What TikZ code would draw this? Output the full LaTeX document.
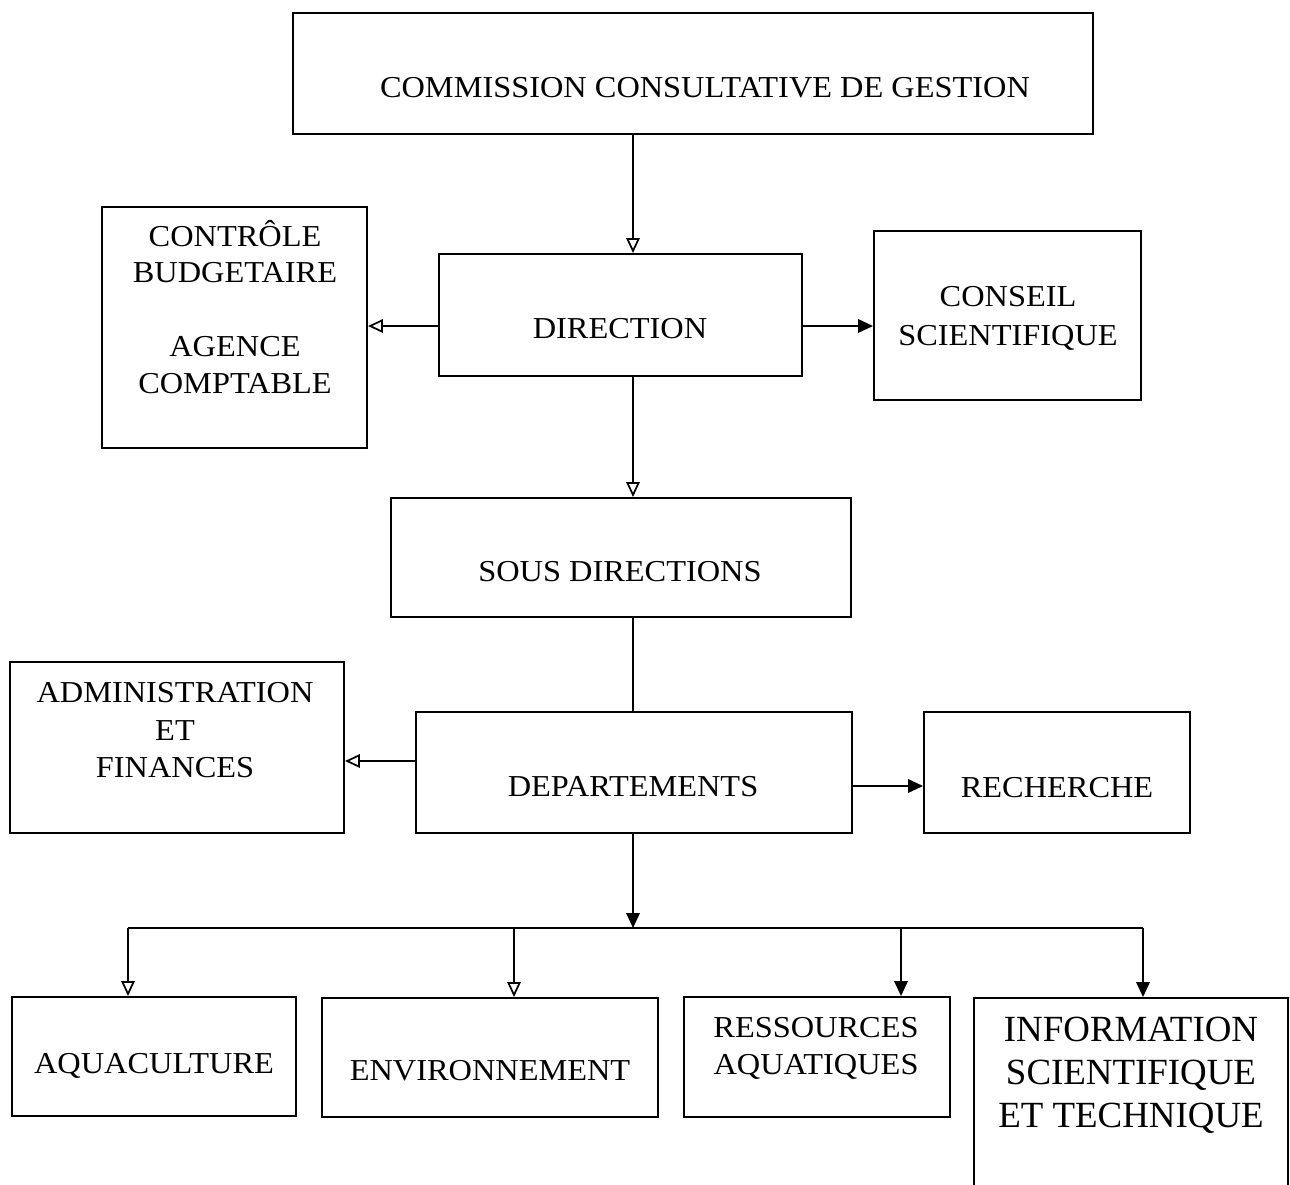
\documentclass[tikz,border=0pt]{standalone}
\usepackage{fontspec}
\setmainfont{Liberation Serif}[FakeStretch=1.065]
\newfontfamily\infofont{Liberation Serif}
\usetikzlibrary{arrows.meta,fit}
\tikzset{
  box/.style={draw,line width=1.1pt,inner sep=0pt},
  lbl/.style={anchor=base,inner sep=0pt,font=\fontsize{17.3}{21}\selectfont},
  biglbl/.style={anchor=base,inner sep=0pt,font=\infofont\fontsize{21}{25}\selectfont},
  link/.style={line width=1.1pt},
  openarrow/.style={link,-{Triangle[open,length=0.3cm,width=0.27cm,line width=1pt]}},
  fullarrow/.style={link,-{Triangle[length=0.3cm,width=0.27cm]}}
}
\begin{document}
\begin{tikzpicture}[x=0.02cm,y=-0.02cm]
\useasboundingbox[fill=white] (0,0) rectangle (1290,1185);
\clip (0,0) rectangle (1290,1185);
% boxes
\node[box,fit={(293,13) (1093,134)}] (ccg) {};
\node[box,fit={(102,207) (367,448)}] (ctrl) {};
\node[box,fit={(439,254) (802,376)}] (dir) {};
\node[box,fit={(874,231) (1141,400)}] (cons) {};
\node[box,fit={(391,498) (851,617)}] (sous) {};
\node[box,fit={(10,662) (344,833)}] (adm) {};
\node[box,fit={(416,712) (852,833)}] (dep) {};
\node[box,fit={(924,712) (1190,833)}] (rech) {};
\node[box,fit={(12,997) (296,1116)}] (aqua) {};
\node[box,fit={(322,998) (658,1117)}] (env) {};
\node[box,fit={(684,997) (950,1117)}] (ress) {};
\node[box,fit={(974,998) (1288,1240)}] (info) {};
% texts
\node[lbl] (t-ccg) at (705,98) {COMMISSION CONSULTATIVE DE GESTION};
\node[lbl] (t-ctrl1) at (235,247) {CONTRÔLE};
\node[lbl] (t-ctrl2) at (235,283) {BUDGETAIRE};
\node[lbl] (t-ctrl3) at (235,357) {AGENCE};
\node[lbl] (t-ctrl4) at (235,394) {COMPTABLE};
\node[lbl] (t-dir) at (620,339) {DIRECTION};
\node[lbl] (t-cons1) at (1008,307) {CONSEIL};
\node[lbl] (t-cons2) at (1008,346) {SCIENTIFIQUE};
\node[lbl] (t-sous) at (620,581) {SOUS DIRECTIONS};
\node[lbl] (t-adm1) at (175,702) {ADMINISTRATION};
\node[lbl] (t-adm2) at (175,740) {ET};
\node[lbl] (t-adm3) at (175,777) {FINANCES};
\node[lbl] (t-dep) at (633,796) {DEPARTEMENTS};
\node[lbl] (t-rech) at (1057,797) {RECHERCHE};
\node[lbl] (t-aqua) at (154,1073) {AQUACULTURE};
\node[lbl] (t-env) at (490,1080) {ENVIRONNEMENT};
\node[lbl] (t-ress1) at (816,1037) {RESSOURCES};
\node[lbl] (t-ress2) at (816,1074) {AQUATIQUES};
\node[biglbl] (t-info1) at (1131,1041) {INFORMATION};
\node[biglbl] (t-info2) at (1131,1084) {SCIENTIFIQUE};
\node[biglbl] (t-info3) at (1131,1127) {ET TECHNIQUE};
% connectors
\coordinate (j) at (633,928);
\coordinate (b1) at (128,928);
\coordinate (b2) at (514,928);
\coordinate (b3) at (901,928);
\coordinate (b4) at (1143,928);
\draw[openarrow] (ccg.south -| j) -- (dir.north -| j);
\draw[openarrow] (dir.south -| j) -- (sous.north -| j);
\draw[link] (sous.south -| j) -- (dep.north -| j);
\draw[openarrow] (dir.west |- 0,326) -- (ctrl.east |- 0,326);
\draw[fullarrow] (dir.east |- 0,326) -- (cons.west |- 0,326);
\draw[openarrow] (dep.west |- 0,761) -- (adm.east |- 0,761);
\draw[fullarrow] (dep.east |- 0,786) -- (rech.west |- 0,786);
\draw[fullarrow] (dep.south -| j) -- (j);
\draw[link] (b1) -- (b4);
\draw[openarrow] (b1) -- (b1 |- aqua.north);
\draw[openarrow] (b2) -- (b2 |- env.north);
\draw[fullarrow] (b3) -- (b3 |- ress.north);
\draw[fullarrow] (b4) -- (b4 |- info.north);
\end{tikzpicture}
\end{document}
